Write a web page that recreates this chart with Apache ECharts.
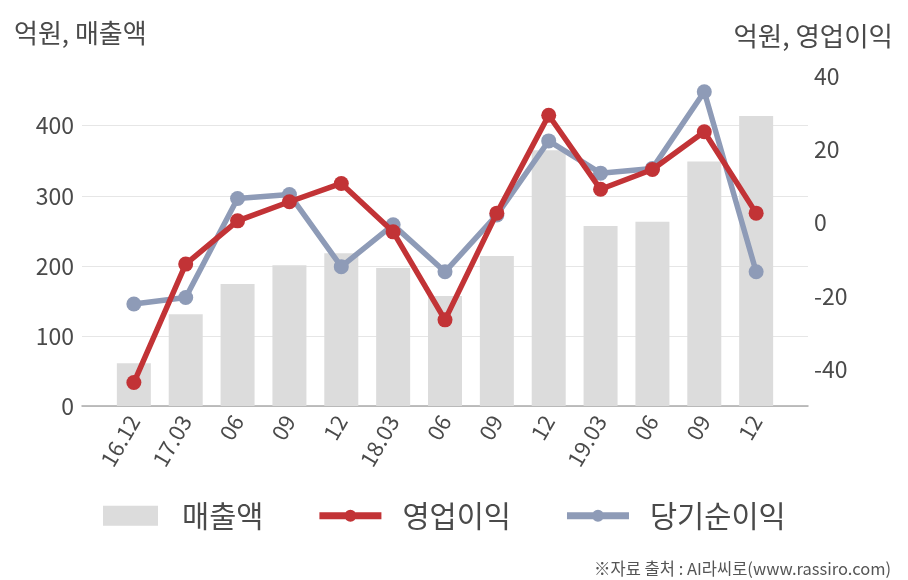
<!DOCTYPE html>
<html>
<head>
<meta charset="utf-8">
<script src="https://cdn.jsdelivr.net/npm/echarts@6/dist/echarts.min.js"></script>
<style>
html,body{margin:0;padding:0;background:#fff;}
#c{width:908px;height:580px;}
</style>
</head>
<body>
<div id="c"></div>
<script>
var categories = ['16.12','17.03','06','09','12','18.03','06','09','12','19.03','06','09','12'];
var sales = [61,131,174,201,218,197,157,214,365,257,263,349,414];
var opProfit = [-43.6,-11.3,0.5,5.7,10.7,-2.5,-26.5,2.6,29.3,9.1,14.5,24.8,2.6];
var netProfit = [-22.2,-20.4,6.6,7.7,-12,-0.6,-13.4,2.1,22.3,13.5,14.8,35.7,-13.4];
var leftTicks = [0,100,200,300,400];
var rightTicks = [-40,-20,0,20,40];

function pad(a){ return [null].concat(a, [null]); }
var axisCats = [''].concat(categories, ['']);
var FONT = '"Noto Sans CJK KR", "Noto Sans", sans-serif';
var TXT = '#4a4a4a';
var CORNERS = 'M0,0h0.01v0.01h-0.01zM62,20h-0.01v-0.01h0.01z';
var barIcon = 'path://' + CORNERS + 'M4,0H59V20H4Z';
var lineIcon = 'path://' + CORNERS + 'M0,6.5H62V13.5H0ZM37,10A6,6 0 1 1 25,10A6,6 0 1 1 37,10Z';

var chart = echarts.init(document.getElementById('c'), null, {renderer:'canvas'});
chart.setOption({
  animation:false,
  backgroundColor:'#fff',
  textStyle:{fontFamily:FONT},
  title:[
    {text:'억원, 매출액', left:9, top:15, textStyle:{fontFamily:FONT, fontSize:26, fontWeight:'normal', color:TXT}},
    {text:'억원, 영업이익', right:10, top:18, textStyle:{fontFamily:FONT, fontSize:26.5, fontWeight:'normal', color:TXT}},
    {text:'※자료 출처 : AI라씨로(www.rassiro.com)', right:12, top:555, textStyle:{fontFamily:FONT, fontSize:16.5, fontWeight:'normal', color:'#555'}}
  ],
  legend:{
    top:496, left:94, itemGap:56, itemWidth:62, itemHeight:20,
    textStyle:{fontFamily:FONT, fontSize:29.5, color:TXT, padding:[0,0,0,16]},
    data:[
      {name:'매출액', icon:barIcon},
      {name:'영업이익', icon:lineIcon},
      {name:'당기순이익', icon:lineIcon}
    ]
  },
  grid:{left:82, right:100, top:76, bottom:174},
  xAxis:{
    type:'category', data:axisCats, boundaryGap:false,
    axisLine:{lineStyle:{color:'#aaaaaa', width:1.5}},
    axisTick:{show:false},
    axisLabel:{rotate:60, fontSize:22, color:TXT, margin:11, fontFamily:FONT, interval:0}
  },
  yAxis:[
    {type:'value', min:0, max:471, interval:100,
     axisLine:{show:false}, axisTick:{show:false},
     axisLabel:{fontSize:23, color:TXT, margin:8, showMaxLabel:false, fontFamily:FONT,
       formatter:function(v){ return leftTicks.indexOf(v)>=0 ? String(v) : ''; }},
     splitLine:{show:true, showMaxLine:false, lineStyle:{color:'#e6e6e6', width:1}}
    },
    {type:'value', min:-50, max:40, interval:10, position:'right',
     axisLine:{show:false}, axisTick:{show:false}, splitLine:{show:false},
     axisLabel:{fontSize:23, color:TXT, margin:6, fontFamily:FONT,
       formatter:function(v){ return rightTicks.indexOf(v)>=0 ? String(v) : ''; }}
    }
  ],
  series:[
    {name:'매출액', type:'bar', yAxisIndex:0, data:pad(sales), barWidth:34,
     itemStyle:{color:'#dcdcdc'}},
    {name:'당기순이익', type:'line', yAxisIndex:1, data:pad(netProfit),
     symbol:'circle', symbolSize:15, lineStyle:{color:'#8e9bb7', width:5.5},
     itemStyle:{color:'#8e9bb7'}, z:3},
    {name:'영업이익', type:'line', yAxisIndex:1, data:pad(opProfit),
     symbol:'circle', symbolSize:15, lineStyle:{color:'#c23336', width:5.5},
     itemStyle:{color:'#c23336'}, z:4}
  ]
});
</script>
</body>
</html>
